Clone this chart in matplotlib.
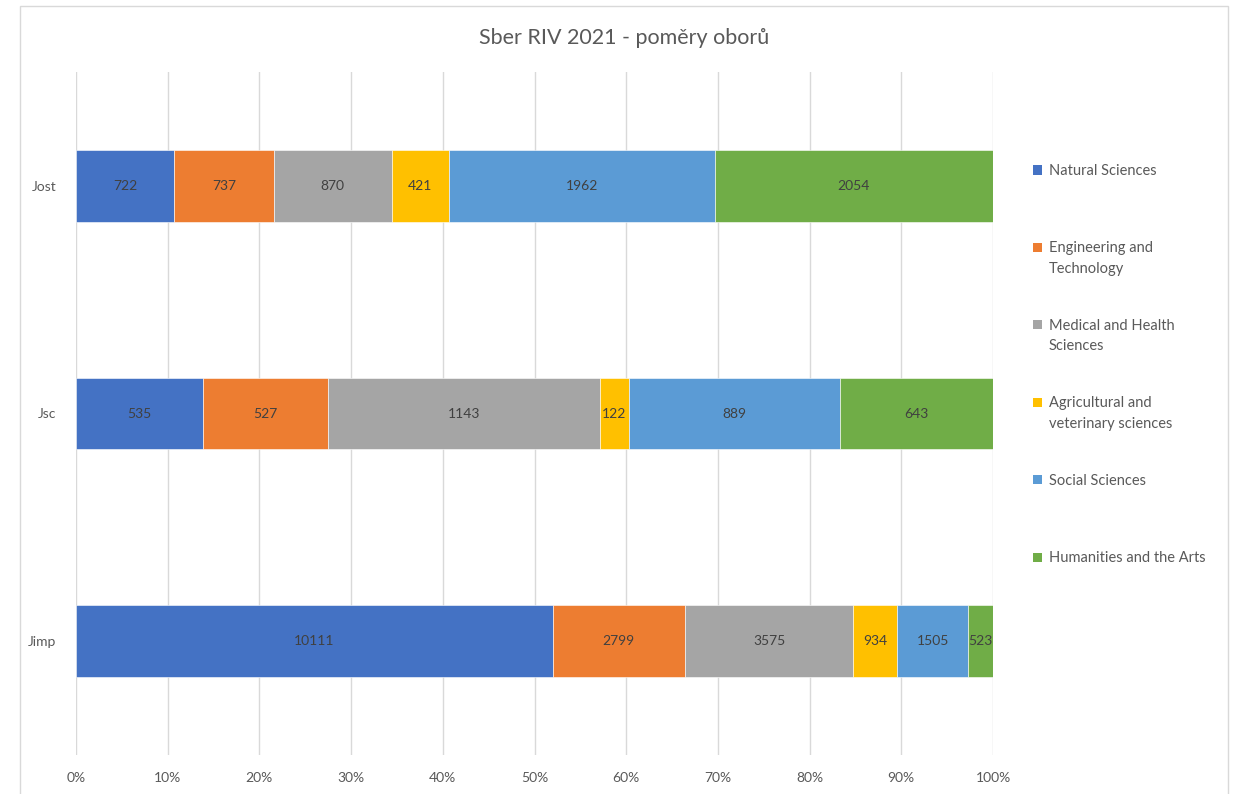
import matplotlib
matplotlib.use("Agg")
import matplotlib.pyplot as plt
from matplotlib.patches import Rectangle
import numpy as np

plt.rcParams['font.family'] = ['Lato', 'DejaVu Sans']

title = "Sber RIV 2021 - poměry oborů"
categories = ["Jimp", "Jsc", "Jost"]
series_names = ["Natural Sciences", "Engineering and\nTechnology", "Medical and Health\nSciences",
                "Agricultural and\nveterinary sciences", "Social Sciences", "Humanities and the Arts"]
colors = ["#4472C4", "#ED7D31", "#A5A5A5", "#FFC000", "#5B9BD5", "#70AD47"]
values = {
    "Natural Sciences": [10111, 535, 722],
    "Engineering and Technology": [2799, 527, 737],
    "Medical and Health Sciences": [3575, 1143, 870],
    "Agricultural and veterinary sciences": [934, 122, 421],
    "Social Sciences": [1505, 889, 1962],
    "Humanities and the Arts": [523, 643, 2054],
}
xticks = np.arange(0, 1.01, 0.1)
xtick_labels = [f"{int(round(t*100))}%" for t in xticks]

W, H = 1240, 794
fig = plt.figure(figsize=(W/100, H/100), dpi=100)
fig.patch.set_facecolor("white")

# outer chart border
fig.patches.append(Rectangle((20/W, -0.05), (1228-20)/W, (794-6)/H + 0.05,
                             transform=fig.transFigure, fill=False,
                             edgecolor="#D9D9D9", linewidth=1.0))

ax = fig.add_axes([76/W, 39/H, (993-76)/W, (755-72)/H])
data = np.array(list(values.values()), dtype=float)
totals = data.sum(axis=0)
fracs = data / totals
y = np.arange(len(categories))
left = np.zeros(len(categories))
for i, (name, c) in enumerate(zip(values.keys(), colors)):
    ax.barh(y, fracs[i], left=left, height=0.315, color=c, edgecolor="white",
            linewidth=0.4, zorder=3)
    for j in range(len(categories)):
        ax.text(left[j] + fracs[i][j]/2, y[j], f"{int(data[i][j])}",
                ha="center", va="center", fontsize=10, color="#404040", zorder=4)
    left += fracs[i]

ax.set_xlim(0, 1)
ax.set_ylim(-0.5, 2.5)
ax.set_xticks(xticks)
ax.set_xticklabels(xtick_labels, fontsize=10, color="#595959")
ax.set_yticks(y)
ax.set_yticklabels(categories, fontsize=10, color="#595959")
ax.tick_params(axis="both", length=0)
ax.tick_params(axis="x", pad=12)
ax.tick_params(axis="y", pad=14)
ax.grid(axis="x", color="#D9D9D9", linewidth=1.0, zorder=0)
for s in ax.spines.values():
    s.set_visible(False)

fig.text(624/W, 1 - 38/H, title, ha="center", va="center", fontsize=15.5, color="#595959")

# legend
for i, (name, c) in enumerate(zip(series_names, colors)):
    yc = 170 + i*77.4
    fig.patches.append(Rectangle((1033/W, 1 - (yc+4.5)/H), 9/W, 9/H,
                                 transform=fig.transFigure, facecolor=c, edgecolor="none"))
    fig.text(1049/W, 1 - (yc-6)/H, name, ha="left", va="top", fontsize=10.5,
             color="#595959", linespacing=1.6)

fig.savefig("out.png", dpi=100)
